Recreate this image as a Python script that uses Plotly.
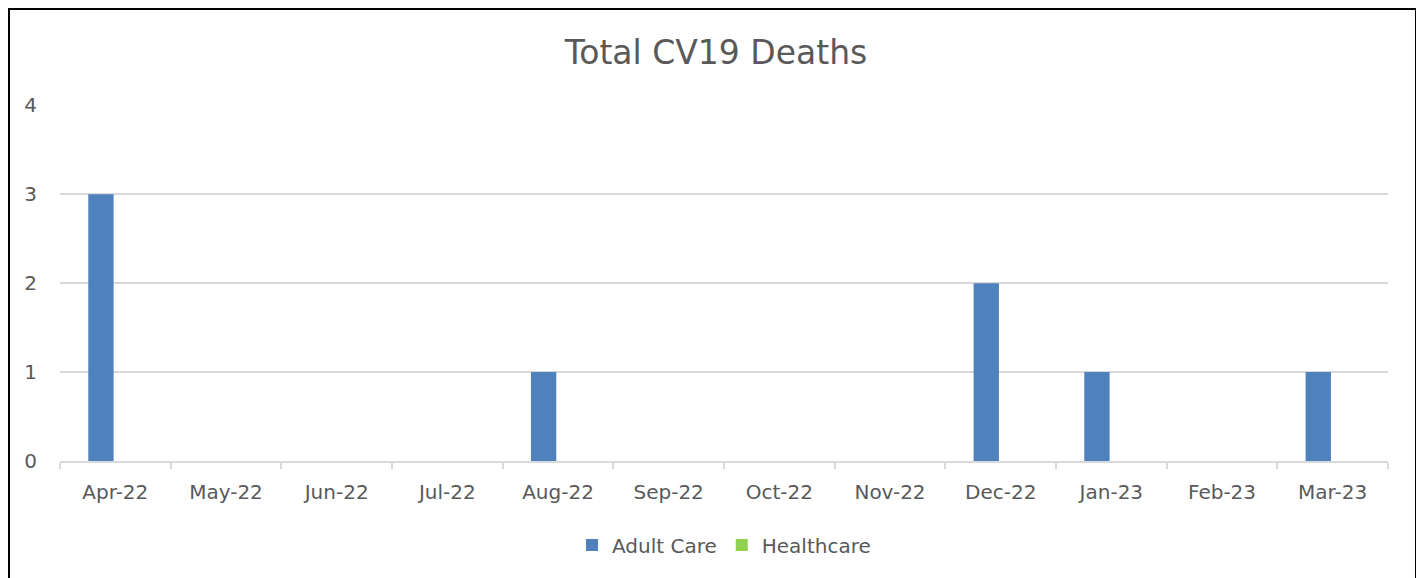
import plotly.graph_objects as go

months = ["Apr-22", "May-22", "Jun-22", "Jul-22", "Aug-22", "Sep-22",
          "Oct-22", "Nov-22", "Dec-22", "Jan-23", "Feb-23", "Mar-23"]
adult_care = [3, 0, 0, 0, 1, 0, 0, 0, 2, 1, 0, 1]
healthcare = [0, 0, 0, 0, 0, 0, 0, 0, 0, 0, 0, 0]
y_ticks = [0, 1, 2, 3, 4]

FONT = "DejaVu Sans"
GREY = "#595959"

fig = go.Figure()
fig.add_trace(go.Bar(x=months, y=adult_care, name="Adult Care",
                     marker=dict(color="#4f81bd", line=dict(width=0))))
fig.add_trace(go.Bar(x=months, y=healthcare, name="Healthcare",
                     marker=dict(color="#92d050", line=dict(width=0))))

# page has an 8px body margin, so figure origin is at (8, 8)
OFF = 8
W, H = 1424 - OFF, 578 - OFF
L, R, T, B = 60 - OFF, 1424 - 1388, 105 - OFF, 578 - 461
pw, ph = W - L - R, H - T - B


def px_x(p):
    return (p - OFF - L) / pw


def px_y(p):
    return (H - B - (p - OFF)) / ph


fig.update_layout(
    width=W, height=H,
    margin=dict(l=L, r=R, t=T, b=B, pad=0),
    paper_bgcolor="white", plot_bgcolor="white",
    barmode="group", bargap=0.48, bargroupgap=0.12,
    font=dict(family=FONT, color=GREY, size=20),
    title=dict(text="Total CV19 Deaths", x=0.5, xanchor="center",
               y=1 - (52 - OFF) / H, yanchor="middle",
               font=dict(family=FONT, size=33, color=GREY)),
    legend=dict(orientation="h", x=0.5, xanchor="center",
                y=px_y(545), yanchor="middle",
                font=dict(family=FONT, size=20, color=GREY),
                itemwidth=30, traceorder="normal"),
    xaxis=dict(type="category", tickson="boundaries", ticks="outside",
               ticklen=6, tickcolor="#d9d9d9", tickwidth=1.5, showline=True,
               linecolor="#d9d9d9", linewidth=1.5, showgrid=False,
               tickfont=dict(family=FONT, size=20, color=GREY),
               ticklabelstandoff=12),
    yaxis=dict(range=[0, 4.004], tickvals=y_ticks, showgrid=True,
               gridcolor="#d9d9d9", gridwidth=1.5, zeroline=False,
               showline=False, ticks="",
               tickfont=dict(family=FONT, size=20, color=GREY),
               ticklabelstandoff=22),
    shapes=[dict(type="rect", xref="paper", yref="paper",
                 x0=px_x(9), x1=px_x(1416), y0=px_y(600), y1=px_y(9),
                 line=dict(color="black", width=2), layer="above")],
)

fig.write_html("out.html")
